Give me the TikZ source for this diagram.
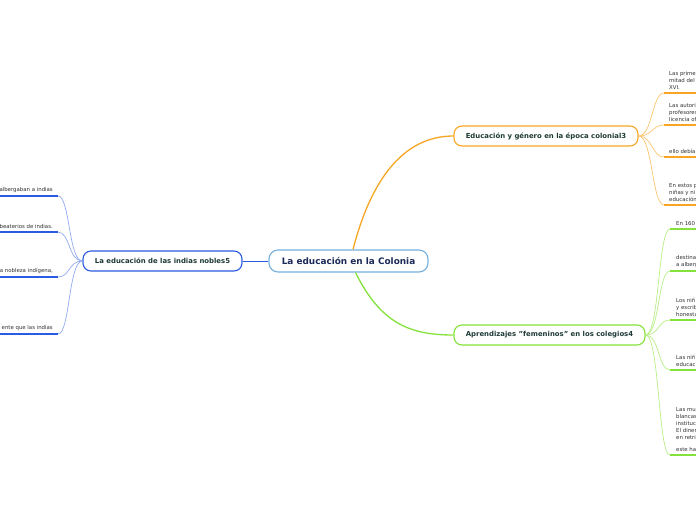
\documentclass[tikz,border=0pt]{standalone}
\usepackage{fontspec}
\setmainfont{DejaVu Sans}
\usetikzlibrary{positioning}
\definecolor{cnavy}{HTML}{1B2A57}
\definecolor{cdark}{HTML}{1E3B36}
\definecolor{cleaf}{HTML}{333333}
\definecolor{croot}{HTML}{74B0DF}
\definecolor{corange}{HTML}{F7A623}
\definecolor{corangel}{HTML}{FBC66F}
\definecolor{cgreen}{HTML}{84E23A}
\definecolor{cgreenl}{HTML}{B8EF86}
\definecolor{cblue}{HTML}{2B5BE3}
\definecolor{cbluel}{HTML}{93ABF2}

\tikzset{
  rootbox/.style={draw=croot, fill=white, line width=1.1pt, rounded corners=9pt,
    minimum height=22pt, font=\fontsize{8.9}{10}\selectfont\bfseries, text=cnavy},
  topic/.style={draw, fill=white, line width=1.1pt, rounded corners=8pt,
    minimum height=20pt, font=\fontsize{6.9}{8}\selectfont\bfseries, text=cdark},
  leaf/.style={inner sep=0pt, align=left, font=\fontsize{5.4}{7}\selectfont, text=cleaf},
  twig/.style={line width=0.7pt},
  rule/.style={line width=1.5pt}
}

\begin{document}
\begin{tikzpicture}[x=1pt, y=-1pt]
  \useasboundingbox (0,0) rectangle (696,520);
  \clip (0,0) rectangle (696,520);
  \fill[white] (0,0) rectangle (696,520);

  % Main topics
  \node[rootbox, minimum width=159pt] (root) at (348.5,261) {La educación en la Colonia};
  \node[topic, draw=corange, minimum width=184pt] (genero) at (546,136) {Educación y género en la época colonial3};
  \node[topic, draw=cgreen, minimum width=191pt] (aprend) at (549.5,335) {Aprendizajes \symbol{34}femeninos\symbol{34} en los colegios4};
  \node[topic, draw=cblue, minimum width=159pt] (nobles) at (162.5,261) {La educación de las indias nobles5};

  \draw[corange, line width=1.3pt] ([xshift=4.5pt]root.north) .. controls +(18,-70) and +(-50,0) .. (genero.west);
  \draw[cgreen, line width=1.3pt] ([xshift=7pt]root.south) .. controls +(25,50) and +(-45,0) .. (aprend.west);
  \draw[cblue, line width=0.9pt] (root.west) -- (nobles.east);

  % Subtopics of genero
  \foreach \n/\y/\txt in {1/93/{Las prime\\mitad del\\XVI.},
                          2/125/{Las autori\\profesores\\licencia of},
                          3/157/{ello debía},
                          4/205/{En estos p\\niñas y ni\\educación}}{
    \coordinate (g\n) at (664,\y);
    \draw[twig, corangel] (genero.east) .. controls +(14,0) and +(-12,0) .. (g\n);
    \draw[rule, corange] (g\n) -- ++(40,0);
    \node[leaf, anchor=south west] at ([xshift=5pt, yshift=3pt]g\n) {\txt};
  }

  % Subtopics of aprend
  \foreach \n/\y/\txt in {1/229/{En 160},
                          2/271/{destina\\a alberg},
                          3/320/{Los niñ\\y escrib\\honesta},
                          4/370/{Las niñ\\educaci},
                          5/455/{Las mu\\blancas\\instituc\\El diner\\en retri\\[5pt]este ha}}{
    \coordinate (a\n) at (670,\y);
    \draw[twig, cgreenl] (aprend.east) .. controls +(14,0) and +(-12,0) .. (a\n);
    \draw[rule, cgreen] (a\n) -- ++(40,0);
    \node[leaf, anchor=south west] at ([xshift=6pt, yshift=3pt]a\n) {\txt};
  }

  % Subtopics of nobles
  \foreach \n/\y/\txt in {1/196/{albergaban a indias},
                          2/232/{beaterios de indias.},
                          3/277/{a nobleza indígena,},
                          4/334/{ente que las indias}}{
    \coordinate (b\n) at (58,\y);
    \draw[twig, cbluel] (nobles.west) .. controls +(-14,0) and +(12,0) .. (b\n);
    \draw[rule, cblue] (b\n) -- ++(-60,0);
    \node[leaf, anchor=south east] at ([xshift=-5pt, yshift=3pt]b\n) {\txt};
  }
\end{tikzpicture}
\end{document}
